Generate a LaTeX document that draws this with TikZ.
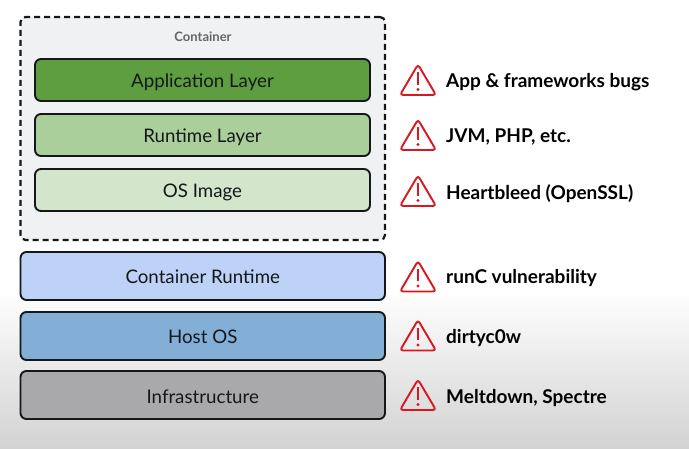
\documentclass[tikz,border=0pt]{standalone}
\usepackage{fontspec}
\setmainfont{Lato}
\definecolor{ink}{HTML}{14181A}
\definecolor{warn}{HTML}{D9171F}
\definecolor{contfill}{HTML}{F0F1F3}
\definecolor{appc}{HTML}{5E9E40}
\definecolor{runc}{HTML}{ABCF9B}
\definecolor{osc}{HTML}{D3E6CB}
\definecolor{crc}{HTML}{BDD2F6}
\definecolor{hostc}{HTML}{83AED6}
\definecolor{infc}{HTML}{A9A9AB}
\definecolor{bgbot}{HTML}{D2D2D3}
\tikzset{
  x=1pt,y=-1pt,
  layer/.style={draw=ink,line width=1.9pt,rounded corners=6pt,anchor=north west,inner sep=0pt,outer sep=0pt,text=ink,text height=19pt,text depth=3pt,font=\fontsize{18.7}{22}\selectfont},
  inner layer/.style={layer,minimum width=335pt,minimum height=42pt},
  outer layer/.style={layer,minimum width=364.5pt,minimum height=48pt},
  risk/.style={anchor=west,inner sep=0pt,text=black,text height=14pt,text depth=0pt,font=\fontsize{19}{23}\selectfont\bfseries},
  warning/.pic={
    \draw[warn,line width=1.9pt,line join=round,rounded corners=3pt] (0,-16) -- (18,14.5) -- (-18,14.5) -- cycle;
    \draw[warn,line width=2.6pt] (0,-8) -- (0,4.5);
    \fill[warn] (0,9) circle (1.7pt);
  }
}
\begin{document}
\begin{tikzpicture}
\useasboundingbox (0,0) rectangle (689,449);
\fill[white] (0,0) rectangle (689,449);
\shade[top color=white,bottom color=bgbot] (0,290) rectangle (689,449);
\node[draw=ink,dash pattern=on 6pt off 4pt,line width=2.2pt,fill=contfill,rounded corners=5pt,anchor=north west,minimum width=364.5pt,minimum height=223pt,inner sep=0pt,outer sep=0pt] (container) at (20.5,17) {};
\node[text=black!60,font=\fontsize{13}{15}\selectfont\bfseries,inner sep=0pt] (clabel) at (203,37) {Container};
\node[inner layer,fill=appc] (app) at (35,59) {Application Layer};
\node[inner layer,fill=runc] (rt) at (35,114) {Runtime Layer};
\node[inner layer,fill=osc] (osi) at (35,169) {OS Image};
\node[outer layer,fill=crc] (cr) at (20.5,252) {Container Runtime};
\node[outer layer,fill=hostc] (host) at (20.5,312) {Host OS};
\node[outer layer,fill=infc] (infra) at (20.5,371) {Infrastructure};
\pic at (418,80.5) {warning};
\pic at (418,135.5) {warning};
\pic at (418,191.5) {warning};
\pic at (418,277) {warning};
\pic at (418,336) {warning};
\pic at (418,395.5) {warning};
\node[risk] (r1) at (446,81) {App \& frameworks bugs};
\node[risk] (r2) at (446,136) {JVM, PHP, etc.};
\node[risk] (r3) at (446,193) {Heartbleed (OpenSSL)};
\node[risk] (r4) at (446,277) {runC vulnerability};
\node[risk] (r5) at (446,337) {dirtyc0w};
\node[risk] (r6) at (446,396) {Meltdown, Spectre};
\end{tikzpicture}
\end{document}
